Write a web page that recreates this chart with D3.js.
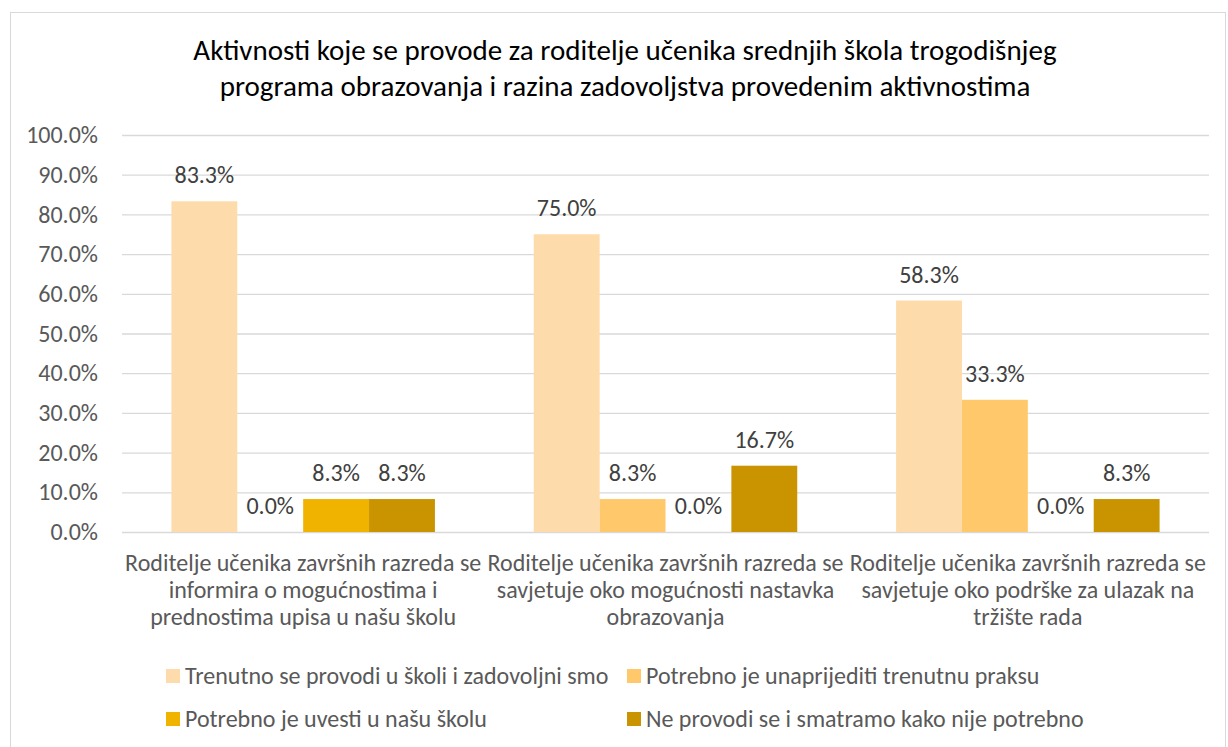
<!DOCTYPE html>
<html>
<head>
<meta charset="utf-8">
<script src="https://cdn.jsdelivr.net/npm/d3@7"></script>
<style>
  body { margin: 0; background: #fff; }
  text { font-family: Carlito, Calibri, "Open Sans", sans-serif; }
</style>
</head>
<body>
<div id="chart"></div>
<script>
// data
const categories = [
    ["Roditelje učenika završnih razreda se", "informira o mogućnostima i", "prednostima upisa u našu školu"],
    ["Roditelje učenika završnih razreda se", "savjetuje oko mogućnosti nastavka", "obrazovanja"],
    ["Roditelje učenika završnih razreda se", "savjetuje oko podrške za ulazak na", "tržište rada"]
]
const seriesNames = [
    "Trenutno se provodi u školi i zadovoljni smo",
    "Potrebno je unaprijediti trenutnu praksu",
    "Potrebno je uvesti u našu školu",
    "Ne provodi se i smatramo kako nije potrebno"
]
const trenutno = [83.3, 75.0, 58.3]
const unaprijediti = [0.0, 8.3, 33.3]
const uvesti = [8.3, 0.0, 0.0]
const neProvodi = [8.3, 16.7, 8.3]
const yTicks = [0, 10, 20, 30, 40, 50, 60, 70, 80, 90, 100]
const titleLines = [
    "Aktivnosti koje se provode za roditelje učenika srednjih škola trogodišnjeg",
    "programa obrazovanja i razina zadovoljstva provedenim aktivnostima"
]

const colors = ["#FEDBAA", "#FFC86A", "#F0B400", "#C99400"]
const allSeries = [trenutno, unaprijediti, uvesti, neProvodi]

const W = 1228, H = 747
const plotLeft = 122, plotRight = 1209, plotTop = 135, plotBottom = 532
const font = "Carlito, Calibri, 'Open Sans', sans-serif"
const fs = 24

var svg = d3.select("#chart").append("svg")
    .attr("width", W).attr("height", H)

// chart border
svg.append("rect")
    .attr("x", 10.5).attr("y", 12.5)
    .attr("width", W - 13).attr("height", H)
    .attr("fill", "#fff").attr("stroke", "#D9D9D9")

// title
svg.append("g").selectAll("text")
    .data(titleLines)
    .enter().append("text")
    .attr("x", 625)
    .attr("y", (d, i) => 60 + i * 36)
    .attr("text-anchor", "middle")
    .attr("font-size", 29)
    .attr("fill", "#000")
    .text(d => d)

const y = d3.scaleLinear().domain([0, 100]).range([plotBottom, plotTop])
const x0 = d3.scaleBand().domain(d3.range(categories.length)).range([plotLeft, plotRight])
const x1 = d3.scaleBand().domain(d3.range(seriesNames.length))
    .range([0, x0.bandwidth()]).paddingOuter(0.75)

// y axis with gridlines
var yAxis = svg.append("g")
    .attr("transform", `translate(${plotLeft},0)`)
    .call(d3.axisLeft(y).tickValues(yTicks).tickSize(-(plotRight - plotLeft)).tickPadding(24)
        .tickFormat(d => d.toFixed(1) + "%"))
yAxis.select(".domain").remove()
yAxis.selectAll(".tick line").attr("stroke", "#D9D9D9").attr("stroke-width", 1.3)
yAxis.selectAll(".tick text")
    .attr("font-size", fs).attr("fill", "#595959")
    .attr("font-family", font)

// bars
var bars = []
allSeries.forEach((vals, s) => {
    vals.forEach((v, c) => bars.push({s, c, v}))
})

var g = svg.append("g")
g.selectAll("rect")
    .data(bars)
    .enter().append("rect")
    .attr("x", d => x0(d.c) + x1(d.s))
    .attr("y", d => y(d.v))
    .attr("width", x1.bandwidth())
    .attr("height", d => y(0) - y(d.v))
    .attr("fill", d => colors[d.s])

g.selectAll("text")
    .data(bars)
    .enter().append("text")
    .attr("x", d => x0(d.c) + x1(d.s) + x1.bandwidth() / 2)
    .attr("y", d => y(d.v) - 18)
    .attr("text-anchor", "middle")
    .attr("font-size", fs)
    .attr("fill", "#404040")
    .text(d => d.v.toFixed(1) + "%")

// category labels
var cats = svg.append("g")
categories.forEach((lines, c) => {
    cats.selectAll(null)
        .data(lines)
        .enter().append("text")
        .attr("x", x0(c) + x0.bandwidth() / 2)
        .attr("y", (d, i) => 571 + i * 27)
        .attr("text-anchor", "middle")
        .attr("font-size", fs)
        .attr("fill", "#595959")
        .text(d => d)
})

// legend
const legendPos = [[166, 676], [627, 676], [166, 719], [627, 719]]
var legend = svg.append("g").selectAll("g")
    .data(seriesNames)
    .enter().append("g")
    .attr("transform", (d, i) => `translate(${legendPos[i][0]},${legendPos[i][1]})`)
legend.append("rect")
    .attr("x", 0).attr("y", -7)
    .attr("width", 14).attr("height", 14)
    .attr("fill", (d, i) => colors[i])
legend.append("text")
    .attr("x", 19).attr("y", 7.5)
    .attr("font-size", fs)
    .attr("fill", "#595959")
    .text(d => d)
</script>
</body>
</html>
